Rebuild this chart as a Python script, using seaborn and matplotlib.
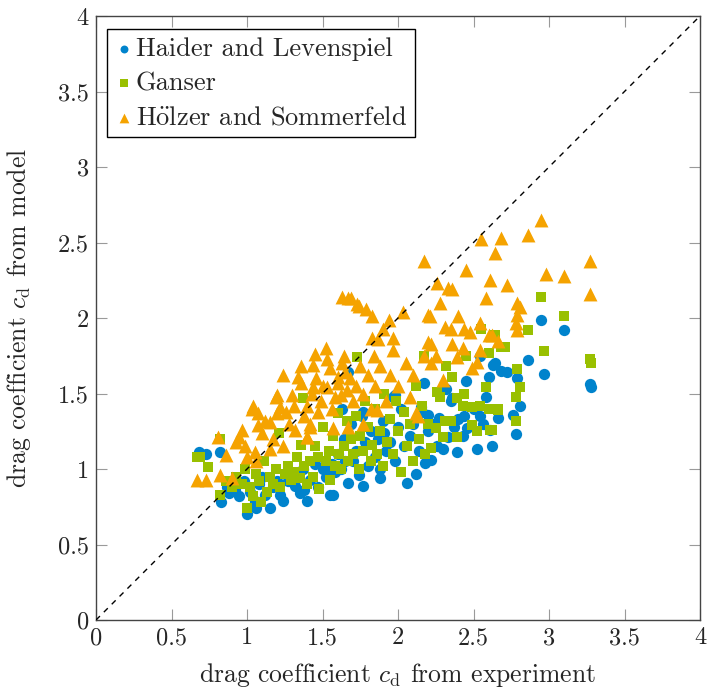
import numpy as np
import pandas as pd
import matplotlib
matplotlib.use("Agg")
import matplotlib.pyplot as plt
import seaborn as sns

# Haider and Levenspiel (experiment, model)
hl_x = [0.68, 0.73, 0.82, 0.87, 0.83, 0.88, 0.92, 0.95, 0.98, 1.00, 1.02, 1.05, 1.06, 1.08, 1.10, 1.12,
        1.15, 1.17, 1.20, 1.22, 1.24, 1.27, 1.30, 1.32, 1.35, 1.37, 1.38, 1.40, 1.42, 1.45, 1.47, 1.50,
        1.52, 1.55, 1.56, 1.58, 1.60, 1.62, 1.64, 1.65, 1.67, 1.67, 1.69, 1.70, 1.72, 1.74, 1.76, 1.77,
        1.78, 1.80, 1.82, 1.85, 1.87, 1.88, 1.90, 1.92, 1.95, 1.97, 1.98, 2.00, 2.02, 2.04, 2.06, 2.08,
        2.10, 2.12, 2.14, 2.16, 2.18, 2.20, 2.22, 2.24, 2.27, 2.30, 2.32, 2.33, 2.35, 2.37, 2.39, 2.40,
        2.43, 2.44, 2.45, 2.46, 2.50, 2.52, 2.54, 2.54, 2.56, 2.58, 2.60, 2.61, 2.62, 2.63, 2.64, 2.66,
        2.68, 2.72, 2.76, 2.78, 2.79, 2.81, 2.86, 2.95, 2.97, 3.10, 3.27, 3.28,
        1.63, 1.77, 1.98, 2.15, 2.17, 1.91, 1.54, 1.57, 2.20, 2.26, 1.88, 2.36]
hl_y = [1.11, 1.10, 1.11, 0.88, 0.78, 0.84, 0.86, 0.82, 0.92, 0.70, 0.85, 0.79, 0.74, 0.90, 0.95, 0.83,
        0.74, 0.88, 0.92, 0.83, 0.79, 0.92, 0.97, 0.89, 0.84, 1.00, 0.86, 0.79, 0.93, 1.03, 0.88, 1.00,
        0.95, 0.83, 1.03, 0.98, 1.10, 1.00, 1.20, 1.05, 0.91, 1.64, 1.30, 1.05, 1.12, 0.96, 1.35, 0.89,
        1.18, 1.02, 1.25, 1.08, 1.20, 1.00, 1.32, 1.12, 1.18, 1.48, 1.05, 1.28, 1.40, 1.15, 0.91, 1.22,
        1.30, 0.97, 1.12, 1.38, 1.04, 1.25, 1.06, 1.30, 1.34, 1.13, 1.53, 1.21, 1.45, 1.28, 1.11, 1.33,
        1.22, 1.35, 1.58, 1.27, 1.40, 1.13, 1.35, 1.75, 1.30, 1.48, 1.61, 1.26, 1.15, 1.69, 1.70, 1.34,
        1.65, 1.64, 1.36, 1.23, 1.60, 1.42, 1.72, 1.99, 1.63, 1.92, 1.56, 1.54,
        1.40, 1.38, 1.49, 1.41, 1.57, 1.24, 0.99, 0.83, 1.36, 1.15, 0.94, 1.47]

# Ganser
g_x = [0.67, 0.69, 0.74, 0.82, 0.82, 0.86, 0.90, 0.93, 0.97, 0.99, 1.00, 1.02, 1.04, 1.06, 1.08, 1.09,
       1.11, 1.13, 1.15, 1.17, 1.19, 1.21, 1.22, 1.25, 1.27, 1.29, 1.31, 1.33, 1.35, 1.36, 1.37, 1.38,
       1.40, 1.42, 1.44, 1.45, 1.47, 1.48, 1.50, 1.52, 1.54, 1.55, 1.57, 1.58, 1.60, 1.61, 1.62, 1.64,
       1.66, 1.67, 1.69, 1.70, 1.72, 1.73, 1.74, 1.75, 1.77, 1.78, 1.80, 1.82, 1.83, 1.85, 1.86, 1.88,
       1.90, 1.91, 1.93, 1.95, 1.97, 1.99, 2.00, 2.02, 2.04, 2.06, 2.08, 2.10, 2.12, 2.14, 2.16, 2.17,
       2.18, 2.20, 2.22, 2.25, 2.26, 2.28, 2.30, 2.31, 2.32, 2.35, 2.36, 2.39, 2.39, 2.43, 2.44, 2.45,
       2.49, 2.49, 2.52, 2.54, 2.55, 2.58, 2.60, 2.60, 2.61, 2.62, 2.64, 2.66, 2.66, 2.68, 2.71, 2.78,
       2.78, 2.79, 2.81, 2.86, 2.95, 2.97, 3.10, 3.27, 3.28]
g_y = [1.08, 1.08, 1.01, 0.83, 1.20, 0.92, 0.88, 0.95, 0.90, 1.00, 0.74, 0.88, 0.82, 0.97, 0.92, 0.78,
       1.05, 0.85, 0.95, 0.90, 1.00, 1.24, 0.88, 0.97, 1.02, 0.93, 0.98, 1.08, 0.94, 1.16, 1.47, 1.02,
       0.90, 1.05, 0.95, 1.15, 1.08, 0.87, 1.28, 1.05, 1.12, 0.93, 1.22, 1.02, 1.37, 1.10, 1.00, 1.15,
       1.32, 1.05, 1.20, 1.10, 1.35, 1.74, 1.00, 1.22, 1.12, 1.45, 1.28, 1.05, 1.16, 1.40, 1.10, 1.25,
       1.02, 1.50, 1.18, 1.33, 1.10, 1.45, 1.25, 0.98, 1.38, 1.15, 1.30, 1.05, 1.55, 1.20, 1.42, 1.75,
       1.10, 1.30, 1.14, 1.27, 1.51, 1.48, 1.21, 1.32, 1.68, 1.32, 1.61, 1.21, 1.47, 1.42, 1.50, 1.75,
       1.29, 1.41, 1.25, 1.42, 1.93, 1.54, 1.40, 1.77, 1.26, 1.26, 1.89, 1.39, 1.40, 1.81, 1.81, 1.32,
       1.48, 1.66, 1.54, 1.92, 2.14, 1.78, 2.01, 1.73, 1.70]

# Hoelzer and Sommerfeld
hs_x = [0.67, 0.73, 0.81, 0.82, 0.86, 0.90, 0.93, 0.95, 0.97, 0.99, 1.00, 1.03, 1.04, 1.05, 1.06, 1.07,
        1.07, 1.10, 1.12, 1.15, 1.15, 1.17, 1.19, 1.20, 1.20, 1.22, 1.24, 1.24, 1.26, 1.28, 1.30, 1.31,
        1.32, 1.34, 1.36, 1.36, 1.38, 1.40, 1.40, 1.42, 1.43, 1.44, 1.44, 1.45, 1.46, 1.47, 1.49, 1.50,
        1.52, 1.53, 1.53, 1.55, 1.56, 1.58, 1.60, 1.60, 1.62, 1.63, 1.63, 1.64, 1.65, 1.66, 1.67, 1.68,
        1.69, 1.70, 1.72, 1.73, 1.74, 1.75, 1.77, 1.79, 1.80, 1.82, 1.83, 1.83, 1.84, 1.85, 1.87, 1.88,
        1.90, 1.92, 1.94, 1.95, 1.97, 1.97, 2.00, 2.03, 2.05, 2.08, 2.10, 2.13, 2.17, 2.17, 2.20, 2.20,
        2.21, 2.22, 2.22, 2.25, 2.26, 2.28, 2.30, 2.31, 2.33, 2.35, 2.36, 2.36, 2.39, 2.40, 2.43, 2.44,
        2.45, 2.48, 2.49, 2.52, 2.54, 2.54, 2.55, 2.58, 2.60, 2.61, 2.62, 2.64, 2.66, 2.68, 2.72, 2.78,
        2.79, 2.79, 2.79, 2.81, 2.86, 2.95, 2.98, 3.10, 3.27, 3.27,
        1.77, 1.67, 1.57, 2.12, 1.86, 1.42, 1.40]
hs_y = [0.93, 0.93, 1.21, 0.96, 1.09, 0.94, 1.18, 1.21, 1.26, 1.15, 1.08, 1.40, 1.42, 1.11, 1.05, 1.37,
        1.29, 1.24, 1.32, 1.31, 1.13, 1.20, 1.48, 1.37, 1.49, 1.41, 1.15, 1.62, 1.38, 1.30, 1.49, 1.42,
        1.26, 1.61, 1.57, 1.68, 1.35, 1.21, 1.42, 1.30, 1.50, 1.69, 1.54, 1.76, 1.60, 1.38, 1.45, 1.55,
        1.80, 1.73, 1.54, 1.67, 1.40, 1.48, 1.61, 1.57, 1.49, 1.70, 2.14, 1.75, 1.64, 1.52, 2.13, 1.60,
        2.13, 1.45, 1.55, 2.09, 2.08, 1.68, 1.50, 2.06, 1.62, 1.40, 2.01, 1.87, 1.75, 1.55, 1.86, 1.68,
        1.93, 1.45, 1.99, 1.62, 1.87, 1.79, 1.55, 2.04, 1.70, 1.48, 1.62, 1.35, 2.38, 1.75, 2.02, 1.84,
        2.01, 1.83, 1.70, 1.75, 2.23, 2.10, 1.59, 1.94, 2.20, 1.93, 2.19, 1.83, 1.74, 2.01, 1.80, 1.93,
        2.32, 1.91, 1.67, 1.71, 1.97, 1.79, 2.52, 2.13, 1.89, 2.25, 1.89, 2.43, 1.85, 2.53, 2.22, 1.97,
        2.10, 2.02, 1.92, 2.07, 2.55, 2.65, 2.29, 2.28, 2.38, 2.16,
        1.30, 1.28, 1.27, 1.37, 1.39, 1.28, 1.21]

labels = ["Haider and Levenspiel", "Ganser", r"H$\ddot{\mathrm{o}}$lzer and Sommerfeld"]
colors = ["#0083CC", "#99C000", "#F5A300"]
markers = ["o", "s", "^"]
sizes = [66, 60, 100]

sns.set_style("ticks")
plt.rcParams["font.family"] = ["cmr10", "DejaVu Serif"]
plt.rcParams["mathtext.fontset"] = "cm"
plt.rcParams["axes.formatter.use_mathtext"] = True

fig = plt.figure(figsize=(7.08, 6.88), dpi=100)
ax = fig.add_axes([96 / 708, 1 - 620 / 688, 604 / 708, 604 / 688])

series = [(hl_x, hl_y), (g_x, g_y), (hs_x, hs_y)]
for (xs, ys), lab, col, mk, sz in zip(series, labels, colors, markers, sizes):
    df = pd.DataFrame({"exp": xs, "model": ys})
    sns.scatterplot(data=df, x="exp", y="model", ax=ax, color=col, marker=mk,
                    s=sz, linewidth=0, label=lab, zorder=3)

ax.plot([0, 4], [0, 4], color="black", linestyle=(0, (4, 4)), linewidth=1, zorder=4)

ax.set_xlim(0, 4)
ax.set_ylim(0, 4)
ticks = [0, 0.5, 1, 1.5, 2, 2.5, 3, 3.5, 4]
ticklabels = ["0", "0.5", "1", "1.5", "2", "2.5", "3", "3.5", "4"]
ax.set_xticks(ticks)
ax.set_yticks(ticks)
ax.set_xticklabels(ticklabels)
ax.set_yticklabels(ticklabels)
ax.tick_params(direction="in", top=True, right=True, length=8, width=0.8,
               labelsize=17.5, color="#9a9a9a", pad=5)
for sp in ax.spines.values():
    sp.set_color("#444444")
    sp.set_linewidth(1.0)

ax.set_xlabel(r"drag coefficient $c_\mathrm{d}$ from experiment", fontsize=18.5)
ax.set_ylabel(r"drag coefficient $c_\mathrm{d}$ from model", fontsize=18.5)
ax.xaxis.set_label_coords(0.5, (620 - 661) / 604)
ax.yaxis.set_label_coords((33 - 96) / 604, 0.5)

leg = ax.legend(loc="upper left", bbox_to_anchor=(0.018, 0.978), borderaxespad=0,
                fontsize=19, markerscale=0.7, handletextpad=0.1, handlelength=0.7,
                borderpad=0.3, labelspacing=0.4,
                frameon=True, fancybox=False, edgecolor="black", framealpha=1)
leg.get_frame().set_linewidth(1.0)

fig.savefig("out.png", dpi=100)
